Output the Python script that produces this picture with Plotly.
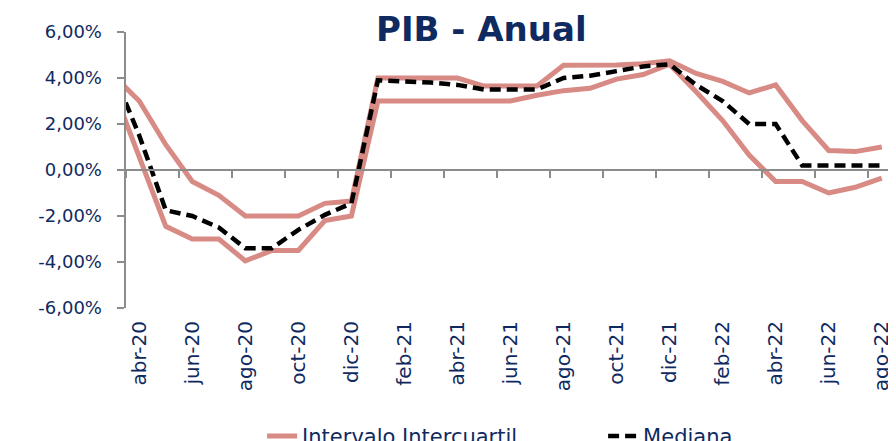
import plotly.graph_objects as go

months = ["mar-20", "abr-20", "may-20", "jun-20", "jul-20", "ago-20", "sep-20", "oct-20",
          "nov-20", "dic-20", "ene-21", "feb-21", "mar-21", "abr-21", "may-21", "jun-21",
          "jul-21", "ago-21", "sep-21", "oct-21", "nov-21", "dic-21", "ene-22", "feb-22",
          "mar-22", "abr-22", "may-22", "jun-22", "jul-22", "ago-22"]

q3_upper = [4.14, 3.0, 1.1, -0.5, -1.1, -2.0, -2.0, -2.0, -1.45, -1.35,
            4.0, 4.0, 4.0, 4.0, 3.65, 3.65, 3.65, 4.55, 4.55, 4.57, 4.62, 4.75,
            4.2, 3.85, 3.35, 3.7, 2.15, 0.85, 0.8, 1.0]

q1_lower = [3.58, 0.5, -2.45, -3.0, -3.0, -3.95, -3.5, -3.5, -2.2, -2.0,
            3.0, 3.0, 3.0, 3.0, 3.0, 3.0, 3.25, 3.45, 3.55, 3.95, 4.15, 4.6,
            3.4, 2.15, 0.65, -0.5, -0.5, -1.0, -0.75, -0.35]

median = [4.3, 1.5, -1.75, -2.0, -2.5, -3.4, -3.4, -2.6, -1.95, -1.45,
          3.9, 3.85, 3.8, 3.7, 3.5, 3.5, 3.5, 4.0, 4.1, 4.3, 4.5, 4.6,
          3.7, 3.0, 2.0, 2.0, 0.2, 0.2, 0.2, 0.2]

x_tick_labels = months[1::2]
y_ticks = [-6, -4, -2, 0, 2, 4, 6]
y_tick_labels = ["-6,00%", "-4,00%", "-2,00%", "0,00%", "2,00%", "4,00%", "6,00%"]

NAVY = "#0f2a60"
PINK = "#D88A84"
GRAY = "#8c8c8c"
FONT = "DejaVu Sans"
PAD = "\u00a0\u00a0"  # keeps the y labels clear of the tick marks

fig = go.Figure()
fig.add_trace(go.Scatter(x=months, y=q3_upper, mode="lines", name="Intervalo Intercuartil",
                         line=dict(color=PINK, width=5), legendgroup="iq", showlegend=True,
                         hoverinfo="skip"))
fig.add_trace(go.Scatter(x=months, y=q1_lower, mode="lines", name="Intervalo Intercuartil",
                         line=dict(color=PINK, width=5), legendgroup="iq", showlegend=False,
                         hoverinfo="skip"))
fig.add_trace(go.Scatter(x=months, y=median, mode="lines", name="Mediana",
                         line=dict(color="black", width=4.5, dash="11px,6px"),
                         hoverinfo="skip"))
# empty trace so the zero-line axis with tick marks is drawn
fig.add_trace(go.Scatter(x=[], y=[], xaxis="x2", showlegend=False, hoverinfo="skip"))

fig.update_layout(
    width=896, height=441,
    margin=dict(l=118, r=9, t=24, b=141, autoexpand=False),
    paper_bgcolor="white", plot_bgcolor="white",
    font=dict(family=FONT, color=NAVY, size=20),
    showlegend=True,
    legend=dict(orientation="h", x=0.177, xanchor="left", y=-0.465, yanchor="middle",
                font=dict(size=21, color=NAVY), bgcolor="rgba(0,0,0,0)",
                entrywidth=296, entrywidthmode="pixels"),
    xaxis=dict(type="category", range=[0.5, 29.5], tickmode="array",
               tickvals=x_tick_labels, ticktext=x_tick_labels, tickangle=-90,
               ticks="", showline=False, showgrid=False, zeroline=False,
               ticklabelstandoff=8, tickfont=dict(size=20, color=NAVY)),
    xaxis2=dict(type="linear", overlaying="x", anchor="free", position=0.5,
                range=[0.5, 29.5], tick0=0.5, dtick=2, ticks="outside", ticklen=7,
                tickwidth=2, tickcolor=GRAY, showticklabels=False, showline=True,
                linecolor=GRAY, linewidth=2, showgrid=False, zeroline=False),
    yaxis=dict(range=[-6, 6], tickmode="array", tickvals=y_ticks,
               ticktext=[t + PAD for t in y_tick_labels],
               ticks="outside", ticklen=7, tickwidth=2, tickcolor=GRAY,
               showline=True, linecolor=GRAY, linewidth=2, showgrid=False,
               zeroline=False, tickfont=dict(size=18, color=NAVY)),
)

fig.add_annotation(text="PIB - Anual", xref="paper", yref="paper", x=0.462, y=1.01,
                   xanchor="center", yanchor="middle", showarrow=False,
                   font=dict(family=FONT, size=34, color=NAVY, weight="bold"))

fig.write_html("out.html")
